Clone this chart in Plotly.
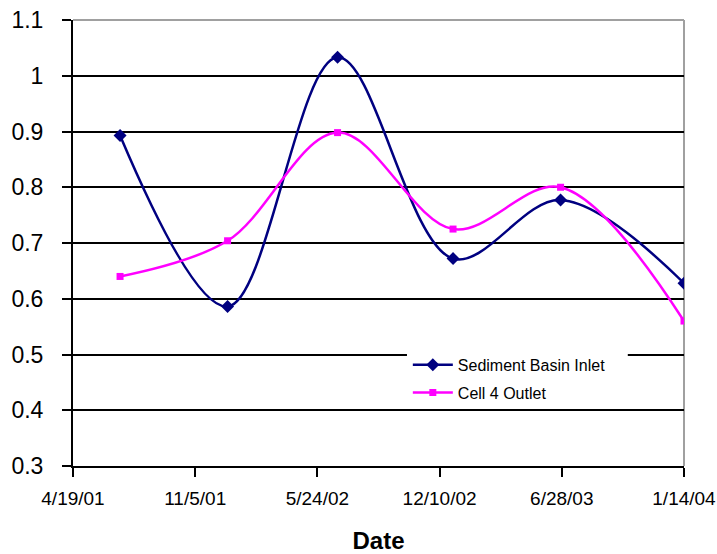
import plotly.graph_objects as go

# ---- data ----
dates = ["2001-07-05", "2001-12-28", "2002-06-26", "2003-01-01", "2003-06-26", "2004-01-14"]
inlet = [0.893, 0.586, 1.033, 0.672, 0.777, 0.628]
outlet = [0.640, 0.704, 0.898, 0.725, 0.800, 0.560]
tick_dates = ["2001-04-19", "2001-11-05", "2002-05-24", "2002-12-10", "2003-06-28", "2004-01-14"]
tick_labels = ["4/19/01", "11/5/01", "5/24/02", "12/10/02", "6/28/03", "1/14/04"]
y_ticks = [0.3, 0.4, 0.5, 0.6, 0.7, 0.8, 0.9, 1.0, 1.1]
y_labels = ["0.3", "0.4", "0.5", "0.6", "0.7", "0.8", "0.9", "1", "1.1"]

FONT = "Arial, Liberation Sans, sans-serif"

fig = go.Figure()
fig.add_trace(go.Scatter(
    x=dates, y=inlet, name="Sediment Basin Inlet", mode="lines+markers",
    legendgroup="a",
    line=dict(color="#000080", width=2.5, shape="spline", smoothing=1.0),
    marker=dict(symbol="diamond", size=10, color="#000080"),
))
fig.add_trace(go.Scatter(
    x=dates, y=outlet, name="Cell 4 Outlet", mode="lines+markers",
    legendgroup="b",
    line=dict(color="#FF00FF", width=2.5, shape="spline", smoothing=1.0),
    marker=dict(symbol="square", size=7, color="#FF00FF"),
))

# gray right border (below traces) and gray top border (over the 1.1 gridline)
fig.add_shape(type="line", xref="paper", yref="paper", x0=1, x1=1, y0=0, y1=1,
              line=dict(color="#a0a0a0", width=2), layer="below")
fig.add_shape(type="line", xref="paper", yref="paper", x0=0, x1=1, y0=1, y1=1,
              line=dict(color="#a0a0a0", width=2), layer="above")
# white backing behind legend that interrupts the 0.5 gridline
fig.add_shape(type="rect", xref="paper", yref="paper", x0=0.5466, x1=0.908, y0=0.14, y1=0.27,
              line=dict(width=0), fillcolor="white", layer="above")

fig.update_layout(
    width=717, height=554,
    margin=dict(l=73, r=33, t=20, b=88, autoexpand=False),
    paper_bgcolor="white", plot_bgcolor="white",
    font=dict(family=FONT, color="black"),
    showlegend=True,
    legend=dict(
        x=0.548, y=0.265, xanchor="left", yanchor="top",
        bgcolor="rgba(255,255,255,0)", borderwidth=0,
        font=dict(size=16, family=FONT, color="black"),
        traceorder="grouped", tracegroupgap=4, itemwidth=40,
    ),
    xaxis=dict(
        type="date", range=["2001-04-19", "2004-01-14"],
        tickvals=tick_dates, ticktext=tick_labels,
        showgrid=False, zeroline=False, automargin=False,
        showline=True, linecolor="black", linewidth=2,
        ticks="outside", ticklen=9, tickwidth=2, tickcolor="black",
        tickfont=dict(size=19, family=FONT),
        ticklabelstandoff=5,
        title=dict(text="<b>Date</b>", font=dict(size=24, family=FONT), standoff=26),
    ),
    yaxis=dict(
        range=[0.3, 1.1], tickvals=y_ticks, ticktext=y_labels,
        showgrid=True, gridcolor="black", gridwidth=2,
        zeroline=False, automargin=False,
        showline=True, linecolor="black", linewidth=2,
        ticks="outside", ticklen=9, tickwidth=2, tickcolor="black",
        tickfont=dict(size=23, family=FONT),
        ticklabelstandoff=14,
    ),
)

fig.write_html("out.html")
